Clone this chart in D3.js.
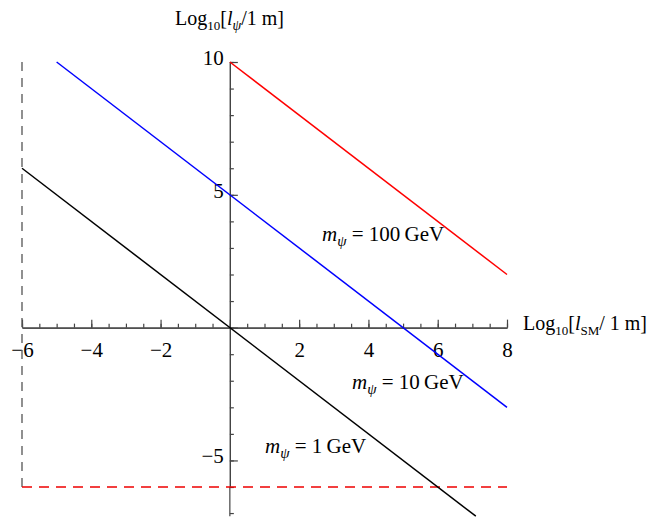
<!DOCTYPE html>
<html>
<head>
<meta charset="utf-8">
<script src="https://cdn.jsdelivr.net/npm/d3@7"></script>
<style>
  body { margin: 0; background: #fff; }
  svg { display: block; font-family: "Liberation Serif", "DejaVu Serif", serif; }
</style>
</head>
<body>
<svg id="svg" width="648" height="518"></svg>
<script>
// masses and the line end points, log10 units
var masses = ['1', '10', '100'];
var lineBlack = [[-6, 6], [7.1, -7.1]];
var lineBlue = [[-5, 10], [8, -3]];
var lineRed = [[0, 10], [8, 2]];
var boundX = [[-6, 10], [-6, -6]];   // dashed vertical
var boundY = [[-6, -6], [8, -6]];    // dashed horizontal
var xMajor = [-6, -4, -2, 0, 2, 4, 6, 8];
var yMajor = [-5, 0, 5, 10];
var xMinor = d3.range(-6, 8.01, 0.5);
var yMinor = d3.range(-7, 10.01, 1);

var svg = d3.select('svg');

var x = d3.scaleLinear().domain([-6, 8]).range([22, 507]);
var y = d3.scaleLinear().domain([-6, 10]).range([487, 62]);

var line = d3.line()
    .x(function(d){ return x(d[0]); })
    .y(function(d){ return y(d[1]); });

var axisColor = '#444';
var noZero = function(d){ return d === 0 ? '' : d3.format('')(d); };

// x axis
var gxm = svg.append('g').attr('transform', 'translate(0,' + y(0) + ')');
gxm.call(d3.axisBottom(x).tickValues(xMinor).tickSize(-4).tickSizeOuter(0).tickFormat(''));
var gx = svg.append('g').attr('transform', 'translate(0,' + y(0) + ')');
gx.call(d3.axisBottom(x).tickValues(xMajor).tickSize(-8).tickSizeOuter(0).tickPadding(14)
    .tickFormat(noZero));

// y axis
var gym = svg.append('g').attr('transform', 'translate(' + x(0) + ',0)');
gym.call(d3.axisLeft(y).tickValues(yMinor.filter(function(v){ return v >= -6; })).tickSize(-4).tickSizeOuter(0).tickFormat(''));
var gy = svg.append('g').attr('transform', 'translate(' + x(0) + ',0)');
gy.call(d3.axisLeft(y).tickValues(yMajor).tickSize(-8).tickSizeOuter(0).tickPadding(6)
    .tickFormat(noZero));
gy.selectAll('text').attr('dy', '0.12em');

svg.selectAll('.domain, .tick line').attr('stroke', axisColor).attr('stroke-width', 1.2);
svg.selectAll('.tick text').attr('font-size', 21).attr('font-family', 'Liberation Serif').attr('fill', '#000');

// axis continues below -6
gy.append('line')
    .attr('x1', 0).attr('x2', 0)
    .attr('y1', y(-6)).attr('y2', y(-7.1))
    .attr('stroke', axisColor).attr('stroke-width', 1.2);
gy.append('line')
    .attr('x1', 0).attr('x2', 4)
    .attr('y1', y(-7)).attr('y2', y(-7))
    .attr('stroke', axisColor).attr('stroke-width', 1.2);

// dashed bounds
svg.append('path').attr('d', line(boundX))
    .attr('fill', 'none').attr('stroke', '#555').attr('stroke-width', 1.3)
    .attr('stroke-dasharray', '9,7');
svg.append('path').attr('d', line(boundY))
    .attr('fill', 'none').attr('stroke', '#e00').attr('stroke-width', 1.3)
    .attr('stroke-dasharray', '10,7');

svg.append('path').attr('d', line(lineBlack))
    .attr('fill', 'none').attr('stroke', '#000').attr('stroke-width', 1.5);
svg.append('path').attr('d', line(lineBlue))
    .attr('fill', 'none').attr('stroke', '#00f').attr('stroke-width', 1.5);
svg.append('path').attr('d', line(lineRed))
    .attr('fill', 'none').attr('stroke', '#f00').attr('stroke-width', 1.5);

// axis titles
var ty = svg.append('text').attr('x', 175).attr('y', 25).attr('font-size', 20);
ty.append('tspan').text('Log');
ty.append('tspan').text('10').attr('font-size', 13).attr('dy', 5);
ty.append('tspan').text('[').attr('dy', -5);
ty.append('tspan').text('l').attr('font-style', 'italic');
ty.append('tspan').text('ψ').attr('font-style', 'italic').attr('font-size', 14).attr('dy', 5);
ty.append('tspan').text('/1 m]').attr('dy', -5);

var tx = svg.append('text').attr('x', 523).attr('y', 330).attr('font-size', 20);
tx.append('tspan').text('Log');
tx.append('tspan').text('10').attr('font-size', 13).attr('dy', 5);
tx.append('tspan').text('[').attr('dy', -5);
tx.append('tspan').text('l').attr('font-style', 'italic');
tx.append('tspan').text('SM').attr('font-size', 13).attr('dy', 5);
tx.append('tspan').text('/ 1 m]').attr('dy', -5);

// mass labels
var labelPos = [[265, 453], [352, 389], [322, 241]];
masses.forEach(function(m, i){
    var t = svg.append('text')
        .attr('x', labelPos[i][0]).attr('y', labelPos[i][1])
        .attr('font-size', 21);
    t.append('tspan').text('m').attr('font-style', 'italic');
    t.append('tspan').text('ψ').attr('font-style', 'italic').attr('font-size', 15).attr('dy', 5);
    t.append('tspan').text(' = ' + m + '\u2009GeV').attr('dy', -5);
});
</script>
</body>
</html>
